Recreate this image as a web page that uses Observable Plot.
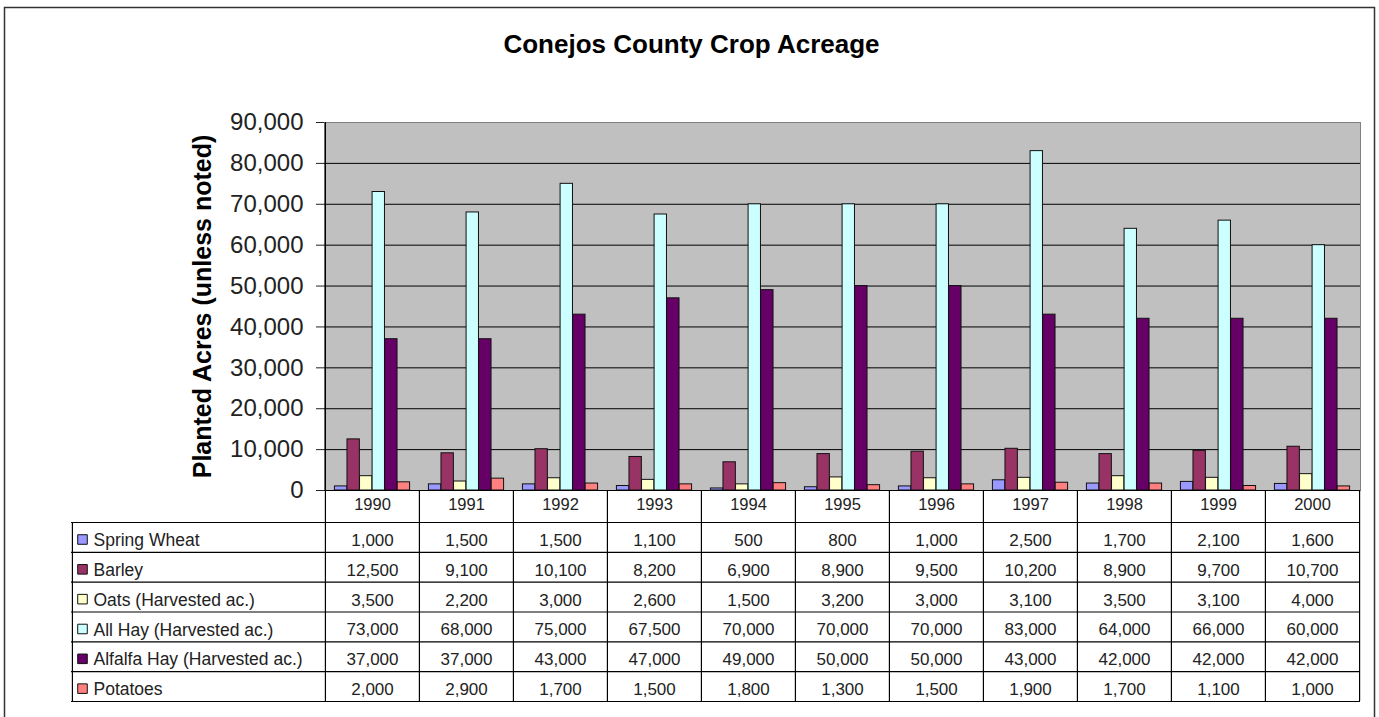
<!DOCTYPE html>
<html><head><meta charset="utf-8">
<script src="https://cdn.jsdelivr.net/npm/d3@7"></script>
<script src="https://cdn.jsdelivr.net/npm/@observablehq/plot@0.6"></script>
<style>html,body{margin:0;padding:0;background:#fff;} svg{display:block;}</style>
</head><body><div id="chart"></div>
<script>
const title = "Conejos County Crop Acreage";
const yLabel = "Planted Acres (unless noted)";
const years = [1990, 1991, 1992, 1993, 1994, 1995, 1996, 1997, 1998, 1999, 2000];
const crops = ["Spring Wheat", "Barley", "Oats (Harvested ac.)", "All Hay (Harvested ac.)", "Alfalfa Hay (Harvested ac.)", "Potatoes"];
const colors = ["#9999FF", "#993366", "#FFFFCC", "#CCFFFF", "#660066", "#FF8080"];
const springWheat = [1000, 1500, 1500, 1100, 500, 800, 1000, 2500, 1700, 2100, 1600];
const barley = [12500, 9100, 10100, 8200, 6900, 8900, 9500, 10200, 8900, 9700, 10700];
const oats = [3500, 2200, 3000, 2600, 1500, 3200, 3000, 3100, 3500, 3100, 4000];
const allHay = [73000, 68000, 75000, 67500, 70000, 70000, 70000, 83000, 64000, 66000, 60000];
const alfalfaHay = [37000, 37000, 43000, 47000, 49000, 50000, 50000, 43000, 42000, 42000, 42000];
const potatoes = [2000, 2900, 1700, 1500, 1800, 1300, 1500, 1900, 1700, 1100, 1000];
const yTicks = [0, 10000, 20000, 30000, 40000, 50000, 60000, 70000, 80000, 90000];

const series = [springWheat, barley, oats, allHay, alfalfaHay, potatoes];
const data = crops.flatMap((crop, i) => years.map((year, j) => ({crop, year, value: series[i][j]})));

const W = 1379, H = 717, mL = 324, mR = 19, mT = 122, mB = 227;
const bw = (W - mL - mR) / years.length;
const barW = bw / 7.5, pad = barW * 0.75;
const frameH = H - mT - mB;
const tableTop = 32, rowH = 29.83, tableBottom = tableTop + 6 * rowH;
const tableLeftOff = mL - 71;
const fmt = d3.format(",");
const font = "'Liberation Sans', Arial, Helvetica, sans-serif";

const marks = [];
// outer border
marks.push(Plot.frame({stroke: "#333", strokeWidth: 1.5, insetLeft: -(mL - 4), insetTop: -(mT - 7), insetRight: -(1374 - (W - mR)), insetBottom: -(mB + 20)}));
// plot background and border
marks.push(Plot.frame({fill: "#C0C0C0", stroke: "#808080", strokeWidth: 1}));
// gridlines
marks.push(Plot.ruleY(yTicks.slice(1, -1), {stroke: "black", strokeWidth: 1}));
// bars
crops.forEach((crop, i) => {
  marks.push(Plot.barY(data.filter(d => d.crop === crop), {
    x: "year", y: "value", fill: colors[i], stroke: "#111", strokeWidth: 1,
    insetLeft: pad + i * barW, insetRight: bw - pad - (i + 1) * barW
  }));
});
// baseline
marks.push(Plot.ruleY([0], {stroke: "black", strokeWidth: 1}));
// left axis line (full height through table)
marks.push(Plot.ruleX([years[0]], {x: d => d, dx: -bw / 2, stroke: "black", strokeWidth: 1.2, insetBottom: -tableBottom}));
// table vertical lines
marks.push(Plot.ruleX(years.slice(1), {x: d => d, dx: -bw / 2, stroke: "black", strokeWidth: 1.2, insetTop: frameH, insetBottom: -tableBottom}));
marks.push(Plot.ruleX([years[years.length - 1]], {x: d => d, dx: bw / 2, stroke: "black", strokeWidth: 1.2, insetTop: frameH, insetBottom: -tableBottom}));
// table left border
marks.push(Plot.ruleX([years[0]], {x: d => d, dx: -bw / 2 - tableLeftOff, stroke: "black", strokeWidth: 1.2, insetTop: frameH + tableTop, insetBottom: -tableBottom}));
// table horizontal lines
for (let k = 0; k <= crops.length; k++) {
  marks.push(Plot.ruleY([0], {dy: tableTop + k * rowH, stroke: "black", strokeWidth: 1.2, insetLeft: -tableLeftOff}));
}
// year header
marks.push(Plot.text(years, {x: d => d, text: d => String(d), frameAnchor: "bottom", dy: 14, fontSize: 16.5, lineAnchor: "middle"}));
// rows
crops.forEach((crop, i) => {
  const dy = tableTop + 18 + i * rowH;
  marks.push(Plot.dot([crop], {frameAnchor: "bottom-left", dx: -(mL - 82), dy: dy - 1, symbol: "square", r: 5.4, fill: colors[i], stroke: "#111", strokeWidth: 1}));
  marks.push(Plot.text([crop], {text: d => d, frameAnchor: "bottom-left", textAnchor: "start", dx: -(mL - 93), dy, fontSize: 17.5, lineAnchor: "middle"}));
  marks.push(Plot.text(data.filter(d => d.crop === crop), {x: "year", text: d => fmt(d.value), frameAnchor: "bottom", dy, fontSize: 17, lineAnchor: "middle"}));
});
// title
marks.push(Plot.text([title], {text: d => d, frameAnchor: "top-left", textAnchor: "middle", dx: 691 - mL, dy: -(mT - 44), fontSize: 26, fontWeight: "bold", fill: "black", lineAnchor: "middle"}));
// y label
marks.push(Plot.text([yLabel], {text: d => d, frameAnchor: "left", textAnchor: "middle", dx: -(mL - 202), rotate: -90, fontSize: 25, fontWeight: "bold", fill: "black", lineAnchor: "middle"}));

const chart = Plot.plot({
  width: W, height: H,
  marginLeft: mL, marginRight: mR, marginTop: mT, marginBottom: mB,
  style: {fontFamily: font, fontSize: "24px", color: "#222", background: "white", overflow: "visible"},
  x: {type: "band", domain: years, paddingInner: 0, paddingOuter: 0, axis: null},
  y: {domain: [0, 90000], ticks: yTicks, tickFormat: fmt, tickSize: 8, tickPadding: 13, label: null},
  marks
});
document.getElementById("chart").appendChild(chart);
</script>
</body></html>
